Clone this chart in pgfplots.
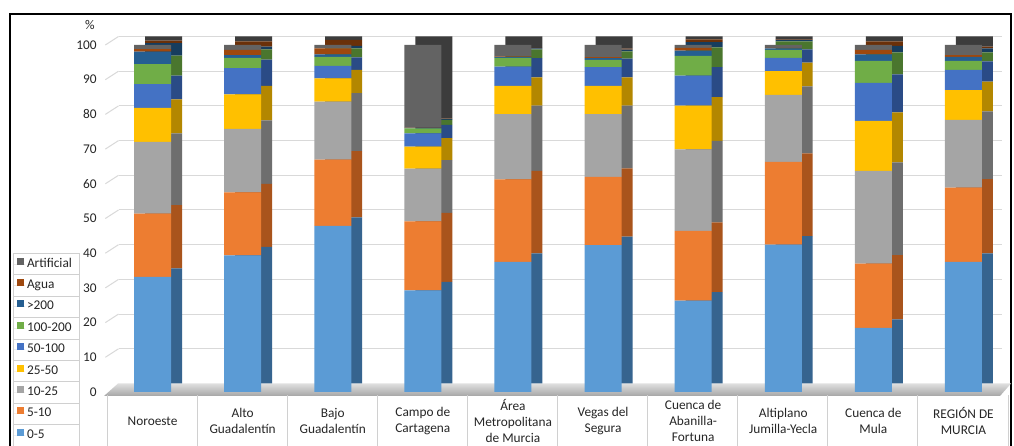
\documentclass[border=0pt]{standalone}
\usepackage{fontspec}
\setmainfont{Carlito}
\usepackage{pgfplots}
\usepackage{pgfplotstable}
\pgfplotsset{compat=1.18}

\definecolor{cA}{HTML}{5B9BD5}\definecolor{dA}{HTML}{36648F}
\definecolor{cB}{HTML}{ED7D31}\definecolor{dB}{HTML}{A9541C}
\definecolor{cC}{HTML}{A5A5A5}\definecolor{dC}{HTML}{6E6E6E}
\definecolor{cD}{HTML}{FFC000}\definecolor{dD}{HTML}{B38700}
\definecolor{cE}{HTML}{4472C4}\definecolor{dE}{HTML}{2A4B86}
\definecolor{cF}{HTML}{70AD47}\definecolor{dF}{HTML}{4A762E}
\definecolor{cG}{HTML}{255E91}\definecolor{dG}{HTML}{173D5E}
\definecolor{cH}{HTML}{9E480E}\definecolor{dH}{HTML}{6A3009}
\definecolor{cI}{HTML}{636363}\definecolor{dI}{HTML}{3C3C3C}
\definecolor{gridc}{HTML}{D9D9D9}
\definecolor{tabc}{HTML}{D0D0D0}
\definecolor{txt}{HTML}{262626}

\pgfplotstableread{
x   a    b    c    d    e    f    g   h   i
0   33.2 18.2 20.7 9.8  6.8  5.8  3.6 0.7 1.2
1   39.4 18.1 18.3 10.0 7.5  3.0  0.8 1.5 1.4
2   47.9 19.1 16.7 6.7  3.6  2.6  0.7 1.7 1.0
3   29.3 19.9 15.2 6.3  3.8  1.5  0.2 0.1 23.7
4   37.5 23.8 18.8 8.1  5.6  2.5  0.3 0.1 3.3
5   42.3 19.7 18.1 8.1  5.4  2.1  0.5 0.3 3.5
6   26.3 20.1 23.5 12.6 8.7  5.7  1.5 0.8 0.8
7   42.5 23.8 19.3 6.9  3.8  2.3  0.4 0.2 0.8
8   18.5 18.5 26.7 14.4 11.0 6.3  1.9 1.3 1.4
9   37.5 21.4 19.5 8.6  5.8  2.6  1.2 0.5 2.9
}\data

\begin{document}
\begin{tikzpicture}
\useasboundingbox (0,0) rectangle (760.5pt,334.5pt);
\fill[white] (0,0) rectangle (760.5pt,334.5pt);
% frame
\draw[black, line width=1.2pt] (7.5pt,-10pt) -- (7.5pt,324pt) -- (758.25pt,324pt) -- (758.25pt,-10pt);
% floor
\shade[top color=gray!25, bottom color=gray!70] (78pt,37.5pt) -- (750pt,37.5pt) -- (758.25pt,46.875pt) -- (88.5pt,46.875pt) -- cycle;
% wall connectors
\foreach \v in {10,20,...,100}{
  \draw[gridc, line width=0.75pt] (79pt,{40.5pt+2.6025pt*\v}) -- (88.875pt,{46.875pt+2.6025pt*\v});
}
% back (side) faces
\begin{axis}[
  scale only axis, width=662.625pt, height=260.25pt,
  at={(88.875pt,46.875pt)}, anchor=south west,
  xmin=-0.5, xmax=9.306, ymin=0, ymax=100,
  ybar stacked, bar width=27.75pt,
  axis line style={draw=none}, tick style={draw=none},
  xtick=\empty, ytick={10,20,...,100}, yticklabels={},
  ymajorgrids, grid style={gridc, line width=0.75pt},
  every axis plot/.append style={draw=none},
]
\addplot[fill=dA] table[x=x,y=a]{\data};
\addplot[fill=dB] table[x=x,y=b]{\data};
\addplot[fill=dC] table[x=x,y=c]{\data};
\addplot[fill=dD] table[x=x,y=d]{\data};
\addplot[fill=dE] table[x=x,y=e]{\data};
\addplot[fill=dF] table[x=x,y=f]{\data};
\addplot[fill=dG] table[x=x,y=g]{\data};
\addplot[fill=dH] table[x=x,y=h]{\data};
\addplot[fill=dI] table[x=x,y=i]{\data};
\end{axis}
% front faces
\begin{axis}[
  scale only axis, width=675.75pt, height=260.25pt,
  at={(80.625pt,40.5pt)}, anchor=south west,
  xmin=-0.5, xmax=9.5, ymin=0, ymax=100,
  ybar stacked, bar width=27.75pt,
  axis line style={draw=none}, tick style={draw=none}, major tick length=0pt,
  ytick={0,10,...,100},
  xtick={0,...,9},
  xticklabels={Noroeste, {Alto\\Guadalentín}, {Bajo\\Guadalentín}, {Campo de\\Cartagena}, {Área\\Metropolitana\\de Murcia}, {Vegas del\\Segura}, {Cuenca de\\Abanilla-\\Fortuna}, {Altiplano\\Jumilla-Yecla}, {Cuenca de\\Mula}, {REGIÓN DE\\MURCIA}},
  /pgf/number format/assume math mode=true,
  tick label style={font=\fontsize{10}{12}\selectfont, text=txt},
  yticklabel style={xshift=-4.6pt},
  xticklabel style={anchor=center, align=center, yshift=-21.75pt},
  clip=false,
  every axis plot/.append style={draw=none},
  reverse legend,
  legend cell align=left,
  legend image code/.code={\path (0pt,0pt) -- (9pt,0pt); \fill[#1] (3pt,-0.35pt) rectangle (8.25pt,4.9pt);},
  legend style={at={(-0.10488,0.39914)}, anchor=north west, draw=none, fill=none,
    inner sep=0pt, outer sep=0pt, row sep=0pt, column sep=1.5pt,
    font=\fontsize{10}{12}\selectfont, text=txt,
    nodes={inner sep=0pt, minimum height=16.05pt, text height=6pt, text depth=1.5pt}},
]
\addplot[fill=cA] table[x=x,y=a]{\data}; \addlegendentry{0-5}
\addplot[fill=cB] table[x=x,y=b]{\data}; \addlegendentry{5-10}
\addplot[fill=cC] table[x=x,y=c]{\data}; \addlegendentry{10-25}
\addplot[fill=cD] table[x=x,y=d]{\data}; \addlegendentry{25-50}
\addplot[fill=cE] table[x=x,y=e]{\data}; \addlegendentry{50-100}
\addplot[fill=cF] table[x=x,y=f]{\data}; \addlegendentry{100-200}
\addplot[fill=cG] table[x=x,y=g]{\data}; \addlegendentry{>200}
\addplot[fill=cH] table[x=x,y=h]{\data}; \addlegendentry{Agua}
\addplot[fill=cI] table[x=x,y=i]{\data}; \addlegendentry{Artificial}
\end{axis}
% "%" label
\node[font=\fontsize{10}{12}\selectfont, text=txt] at (67.5pt,315.75pt) {\%};
% category table lines
\foreach \k in {0,...,10}{
  \draw[tabc, line width=0.75pt] ({80.25pt+67.575pt*\k},38.25pt) -- ({80.25pt+67.575pt*\k},0pt);
}
% legend table
\draw[tabc, line width=0.75pt] (9.75pt,144.375pt) -- (9.75pt,0pt);
\draw[tabc, line width=0.75pt] (59.25pt,144.375pt) -- (59.25pt,0pt);
\foreach \k in {0,...,8}{
  \draw[tabc, line width=0.75pt] (9.75pt,{144.375pt-16.05pt*\k}) -- (59.25pt,{144.375pt-16.05pt*\k});
}
\end{tikzpicture}
\end{document}
